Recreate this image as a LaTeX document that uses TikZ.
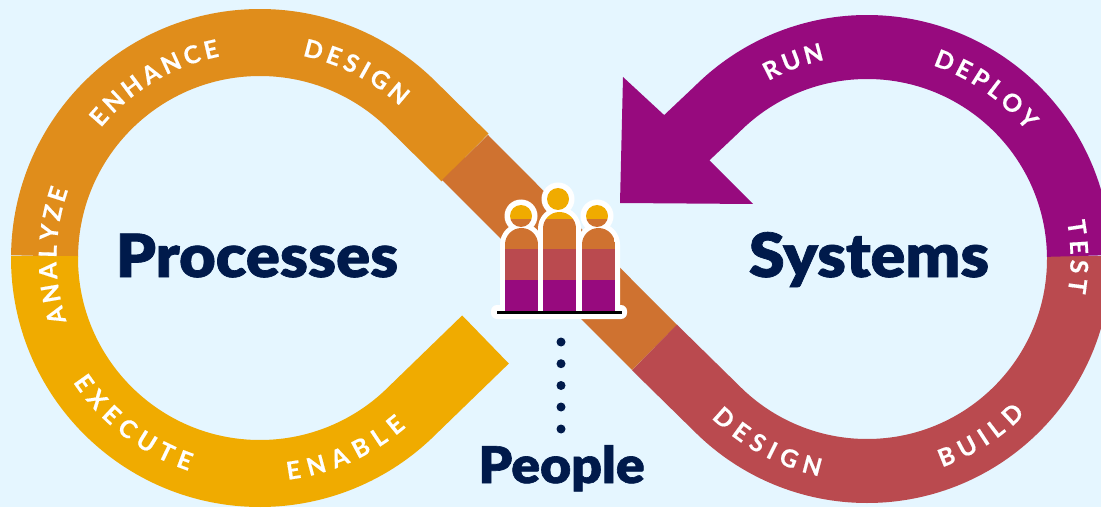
\documentclass[tikz,border=0pt]{standalone}
\usepackage{fontspec}
\newfontfamily\heavyf{Lato Black}[FakeBold=1.2,FakeStretch=1.06]
\newfontfamily\letterf{Lato Bold}[FakeBold=0.5]
\definecolor{bgc}{HTML}{E5F6FF}
\definecolor{orangec}{HTML}{E08D1B}
\definecolor{diagc}{HTML}{CF7230}
\definecolor{redc}{HTML}{BA4A4F}
\definecolor{magc}{HTML}{970A7E}
\definecolor{yelc}{HTML}{F0AB00}
\definecolor{navyc}{HTML}{001A4B}
\newlength\lw
\newcommand\lettf{\letterf\fontsize{24.5}{24.5}\selectfont}
\newcommand\measureltr[1]{\setbox0=\hbox{\pgfinterruptpicture\lettf #1\endpgfinterruptpicture}\global\lw=\wd0 }
% cx, cy, r, mid angle, dir(+1 top/clockwise, -1 bottom), tracking, letters
\newcommand\arcword[7]{%
  \gdef\totw{0}%
  \foreach \ltr in {#7}{\measureltr{\ltr}\pgfmathsetmacro\tmpw{\totw+\the\lw+#6}\global\let\totw\tmpw}%
  \pgfmathsetmacro\totwd{\totw-#6}\global\let\totwd\totwd
  \gdef\cum{0}%
  \foreach \ltr in {#7}{%
    \measureltr{\ltr}%
    \pgfmathsetmacro\myS{\cum+\the\lw/2-\totwd/2}%
    \pgfmathsetmacro\myA{#4-(#5)*\myS/(#3)*57.29578}%
    \pgfmathsetmacro\myR{#3-(#5)*8.5}%
    \pgfmathsetmacro\myX{#1+\myR*cos(\myA)}%
    \pgfmathsetmacro\myY{#2+\myR*sin(\myA)}%
    \pgfmathsetmacro\myRot{\myA-(#5)*90}%
    \node[letterstyle,rotate=\myRot] at (\myX,\myY) {\ltr};%
    \pgfmathsetmacro\tmpw{\cum+\the\lw+#6}\global\let\cum\tmpw
  }%
}
\tikzset{
  letterstyle/.style={inner sep=0pt,outer sep=0pt,anchor=base,text=white,font=\lettf},
  bigword/.style={inner sep=0pt,anchor=base,text=navyc},
  leftband/.style={line width=67pt,line cap=butt,line join=round},
  rightband/.style={line width=64pt,line cap=butt,line join=round},
}
\begin{document}
\begin{tikzpicture}[x=1pt,y=1pt]
\useasboundingbox (0,0) rectangle (1101,507);
\fill[bgc] (0,0) rectangle (1101,507);
\begin{scope}
\clip (0,0) rectangle (1101,507);
% left loop
\draw[leftband,orangec] (44.54,251) arc[start angle=179.47,end angle=45,radius=215.5] -- (465,349.5);
\draw[leftband,yelc] (44.5,251) -- (44.5,249) arc[start angle=180,end angle=315,radius=215.5] -- (485.5,167.5);
% diagonal
\fill[diagc] (488,372) -- (442,327) -- (632,137) -- (677,182) -- cycle;
% right loop
\draw[rightband,redc] (1079,251) -- (1079,248) arc[start angle=0,end angle=-135,radius=212] -- (654.5,159.5);
\draw[rightband,magc] (1078.98,251) arc[start angle=0.81,end angle=135,radius=212] -- (660,344);
\fill[magc] (663,393) -- (623,430) -- (620,304) -- (753,303) -- (709,347) -- cycle;
\end{scope}
% ring words
\arcword{260}{249}{215}{62.7}{1}{5}{D,E,S,I,G,N}
\arcword{260}{249}{214}{121}{1}{4.8}{E,N,H,A,N,C,E}
\arcword{260}{249}{212}{179.3}{1}{4.7}{A,N,A,L,Y,Z,E}
\arcword{260}{249}{216}{232.5}{-1}{5.9}{E,X,E,C,U,T,E}
\arcword{260}{249}{215}{294}{-1}{6.8}{E,N,A,B,L,E}
\arcword{867}{248}{212}{110.5}{1}{4.6}{R,U,N}
\arcword{867}{248}{213}{55}{1}{4.7}{D,E,P,L,O,Y}
\arcword{867}{248}{212}{0.6}{1}{5.6}{T,E,S,T}
\arcword{867}{248}{213}{302.7}{-1}{5.8}{B,U,I,L,D}
\arcword{867}{248}{214}{241.6}{-1}{6}{D,E,S,I,G,N}
% big labels
\node[bigword,font=\heavyf\fontsize{59.5}{60}\selectfont] (processes) at (257,230) {Processes};
\node[bigword,font=\heavyf\fontsize{61}{60}\selectfont] (systems) at (869,230) {Systems};
\node[bigword,font=\heavyf\fontsize{50.5}{50}\selectfont] (people) at (561.5,24) {People};
% people icon: white halos
\fill[white,rounded corners=6pt] (491,188) rectangle (627,202);
\foreach \xa/\top in {505/279,543/295,582/279}{
  \draw[white,line width=10pt,line join=round] (\xa,196) -- (\xa,\top-16.5) arc[start angle=180,end angle=0,radius=16.5] -- (\xa+33,196) -- cycle;
}
\foreach \hx/\hy in {521/291,558/308,597/291}{
  \fill[white] (\hx,\hy) circle[radius=16.5];
}
% fills
\foreach \xa/\top in {505/279,543/295,582/279}{
  \begin{scope}
  \clip (\xa,196) -- (\xa,\top-16.5) arc[start angle=180,end angle=0,radius=16.5] -- (\xa+33,196) -- cycle;
  \fill[magc] (\xa,196) rectangle (\xa+33,227);
  \fill[redc] (\xa,227) rectangle (\xa+33,258);
  \fill[diagc] (\xa,258) rectangle (\xa+33,288.3);
  \fill[yelc] (\xa,288.3) rectangle (\xa+33,300);
  \end{scope}
}
\foreach \hx/\hy in {521/291,558/308,597/291}{
  \begin{scope}
  \clip (\hx,\hy) circle[radius=11];
  \fill[diagc] (\hx-12,\hy-12) rectangle (\hx+12,288.3);
  \fill[yelc] (\hx-12,288.3) rectangle (\hx+12,\hy+12);
  \end{scope}
}
\draw[black,line width=3pt] (497,195) -- (622,195);
% dots
\foreach \dy in {165,143.3,121.5,100,78}{
  \fill[navyc] (561,\dy) circle[radius=4.5];
}
\end{tikzpicture}
\end{document}
